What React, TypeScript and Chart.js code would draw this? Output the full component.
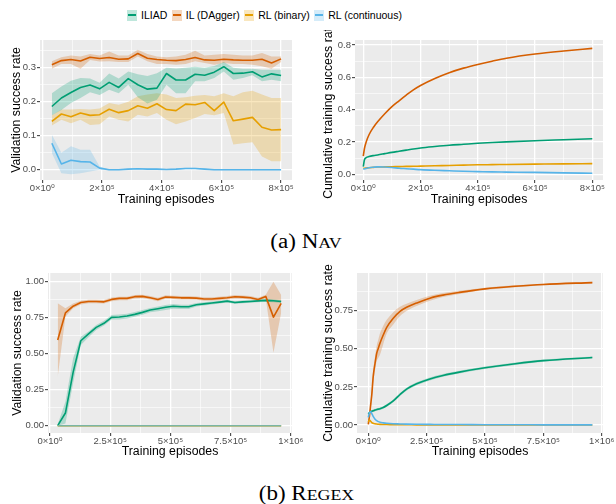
import React, { useEffect, useRef } from 'react';
import { Chart, registerables } from 'chart.js';
Chart.register(...registerables);

const FONT = "'Liberation Sans', 'DejaVu Sans', Arial, sans-serif";
const SERIES = ['ILIAD', 'IL (DAgger)', 'RL (binary)', 'RL (continuous)'];
const COLORS = ['#009E73', '#D55E00', '#E69F00', '#56B4E9'];

// ---------- NAV validation ----------
const NAV_EPISODES = [32000, 64000, 96000, 128000, 160000, 192000, 224000, 256000, 288000, 320000, 352000, 384000, 416000, 448000, 480000, 512000, 544000, 576000, 608000, 640000, 672000, 704000, 736000, 768000, 800000];
const NAV_VAL_ILIAD = [0.186, 0.211, 0.227, 0.242, 0.249, 0.238, 0.257, 0.242, 0.268, 0.250, 0.237, 0.240, 0.283, 0.264, 0.264, 0.281, 0.278, 0.287, 0.303, 0.283, 0.284, 0.288, 0.273, 0.282, 0.277];
const NAV_VAL_ILIAD_LO = [0.160, 0.176, 0.196, 0.211, 0.228, 0.220, 0.235, 0.225, 0.250, 0.213, 0.195, 0.206, 0.250, 0.225, 0.225, 0.260, 0.260, 0.270, 0.289, 0.265, 0.270, 0.278, 0.260, 0.265, 0.260];
const NAV_VAL_ILIAD_HI = [0.225, 0.245, 0.262, 0.270, 0.268, 0.256, 0.283, 0.268, 0.289, 0.281, 0.276, 0.284, 0.300, 0.298, 0.300, 0.303, 0.300, 0.305, 0.317, 0.300, 0.297, 0.297, 0.294, 0.294, 0.294];
const NAV_VAL_IL = [0.309, 0.321, 0.324, 0.320, 0.331, 0.327, 0.330, 0.325, 0.326, 0.342, 0.328, 0.324, 0.322, 0.321, 0.324, 0.330, 0.323, 0.322, 0.325, 0.323, 0.322, 0.322, 0.325, 0.314, 0.326];
const NAV_VAL_IL_LO = [0.297, 0.311, 0.311, 0.297, 0.323, 0.318, 0.319, 0.317, 0.317, 0.333, 0.319, 0.311, 0.311, 0.309, 0.311, 0.319, 0.314, 0.309, 0.314, 0.311, 0.311, 0.309, 0.304, 0.297, 0.317];
const NAV_VAL_IL_HI = [0.319, 0.331, 0.336, 0.333, 0.340, 0.336, 0.348, 0.336, 0.336, 0.353, 0.340, 0.333, 0.331, 0.333, 0.338, 0.350, 0.336, 0.338, 0.340, 0.338, 0.336, 0.336, 0.343, 0.333, 0.333];
const NAV_VAL_RLB = [0.142, 0.164, 0.156, 0.167, 0.160, 0.162, 0.178, 0.168, 0.174, 0.188, 0.181, 0.194, 0.177, 0.174, 0.193, 0.191, 0.198, 0.174, 0.199, 0.144, 0.149, 0.154, 0.125, 0.117, 0.118];
const NAV_VAL_RLB_LO = [0.130, 0.147, 0.137, 0.147, 0.132, 0.134, 0.157, 0.147, 0.142, 0.162, 0.157, 0.167, 0.147, 0.134, 0.142, 0.152, 0.164, 0.160, 0.167, 0.074, 0.078, 0.081, 0.039, 0.025, 0.025];
const NAV_VAL_RLB_HI = [0.160, 0.177, 0.177, 0.179, 0.177, 0.180, 0.196, 0.191, 0.200, 0.216, 0.221, 0.225, 0.221, 0.211, 0.213, 0.218, 0.220, 0.216, 0.225, 0.216, 0.228, 0.232, 0.221, 0.211, 0.211];
const NAV_VAL_RLC = [0.078, 0.017, 0.028, 0.024, 0.023, 0.005, 0.000, 0.000, 0.002, 0.003, 0.002, 0.002, 0.001, 0.002, 0.004, 0.004, 0.002, 0.000, 0.000, 0.000, 0.000, 0.000, 0.000, 0.000, 0.000];
const NAV_VAL_RLC_LO = [0.049, -0.010, -0.013, -0.010, -0.005, 0.000, -0.001, -0.001, 0.000, 0.001, 0.000, 0.000, 0.000, 0.000, 0.002, 0.002, 0.000, -0.001, -0.001, -0.001, -0.001, -0.001, -0.001, -0.001, -0.001];
const NAV_VAL_RLC_HI = [0.103, 0.050, 0.069, 0.059, 0.059, 0.010, 0.001, 0.001, 0.004, 0.005, 0.004, 0.004, 0.002, 0.004, 0.006, 0.006, 0.004, 0.001, 0.001, 0.001, 0.001, 0.001, 0.001, 0.001, 0.001];

// ---------- NAV cumulative training ----------
const NAV_CUM_EPISODES = [0, 4000, 10000, 20000, 35000, 50000, 75000, 100000, 125000, 150000, 175000, 200000, 250000, 300000, 350000, 400000, 450000, 500000, 600000, 700000, 800000];
const NAV_CUM_ILIAD = [0.047, 0.090, 0.103, 0.110, 0.116, 0.120, 0.128, 0.136, 0.143, 0.150, 0.157, 0.163, 0.172, 0.180, 0.186, 0.192, 0.197, 0.201, 0.208, 0.214, 0.220];
const NAV_CUM_IL = [0.113, 0.160, 0.200, 0.245, 0.290, 0.325, 0.375, 0.419, 0.455, 0.490, 0.523, 0.550, 0.593, 0.629, 0.657, 0.680, 0.700, 0.718, 0.744, 0.763, 0.779];
const NAV_CUM_RLB = [0.037, 0.038, 0.039, 0.041, 0.043, 0.045, 0.046, 0.047, 0.048, 0.049, 0.050, 0.051, 0.053, 0.055, 0.057, 0.059, 0.060, 0.061, 0.063, 0.065, 0.066];
const NAV_CUM_RLC = [0.031, 0.034, 0.037, 0.041, 0.044, 0.046, 0.045, 0.042, 0.038, 0.035, 0.032, 0.029, 0.025, 0.022, 0.019, 0.017, 0.015, 0.014, 0.012, 0.009, 0.007];

// ---------- REGEX validation ----------
const REGEX_EPISODES = [32000, 64000, 96000, 128000, 160000, 192000, 224000, 256000, 288000, 320000, 352000, 384000, 416000, 448000, 480000, 512000, 544000, 576000, 608000, 640000, 672000, 704000, 736000, 768000, 800000, 832000, 864000, 896000, 928000, 960000];
const REGEX_VAL_ILIAD = [0.0, 0.088, 0.37, 0.59, 0.637, 0.683, 0.711, 0.752, 0.755, 0.762, 0.773, 0.787, 0.803, 0.812, 0.822, 0.83, 0.826, 0.826, 0.84, 0.846, 0.852, 0.858, 0.865, 0.855, 0.86, 0.863, 0.867, 0.87, 0.868, 0.862];
const REGEX_VAL_ILIAD_LO = [0.0, 0.016, 0.294, 0.56, 0.615, 0.665, 0.695, 0.738, 0.738, 0.745, 0.757, 0.77, 0.788, 0.795, 0.803, 0.812, 0.81, 0.81, 0.828, 0.835, 0.842, 0.848, 0.855, 0.845, 0.85, 0.853, 0.857, 0.86, 0.858, 0.852];
const REGEX_VAL_ILIAD_HI = [0.01, 0.167, 0.468, 0.618, 0.655, 0.70, 0.728, 0.768, 0.772, 0.778, 0.79, 0.803, 0.818, 0.828, 0.838, 0.845, 0.84, 0.84, 0.852, 0.857, 0.862, 0.868, 0.875, 0.865, 0.87, 0.873, 0.877, 0.88, 0.878, 0.872];
const REGEX_VAL_IL = [0.595, 0.783, 0.83, 0.855, 0.862, 0.862, 0.86, 0.877, 0.884, 0.884, 0.896, 0.898, 0.888, 0.877, 0.894, 0.891, 0.888, 0.888, 0.886, 0.88, 0.88, 0.884, 0.889, 0.896, 0.893, 0.888, 0.877, 0.898, 0.754, 0.85];
const REGEX_VAL_IL_LO = [0.34, 0.757, 0.815, 0.842, 0.85, 0.85, 0.848, 0.865, 0.872, 0.872, 0.884, 0.886, 0.876, 0.865, 0.882, 0.879, 0.876, 0.876, 0.874, 0.868, 0.868, 0.872, 0.877, 0.884, 0.881, 0.876, 0.865, 0.885, 0.507, 0.785];
const REGEX_VAL_IL_HI = [0.85, 0.815, 0.848, 0.868, 0.875, 0.875, 0.873, 0.89, 0.896, 0.896, 0.908, 0.91, 0.9, 0.889, 0.906, 0.903, 0.9, 0.9, 0.898, 0.892, 0.892, 0.896, 0.901, 0.908, 0.905, 0.9, 0.889, 0.91, 1.0, 0.907];
const REGEX_VAL_RLB = [0, 0, 0, 0, 0, 0, 0, 0, 0, 0, 0, 0, 0, 0, 0, 0, 0, 0, 0, 0, 0, 0, 0, 0, 0, 0, 0, 0, 0, 0];
const REGEX_VAL_RLC = [0, 0, 0, 0, 0, 0, 0, 0, 0, 0, 0, 0, 0, 0, 0, 0, 0, 0, 0, 0, 0, 0, 0, 0, 0, 0, 0, 0, 0, 0];

// ---------- REGEX cumulative training ----------
const REGEX_CUM_EPISODES = [0, 5000, 10000, 15000, 21000, 29000, 36000, 43000, 50000, 64000, 79000, 107000, 136000, 164000, 207000, 264000, 320000, 390000, 500000, 630000, 750000, 960000];
const REGEX_CUM_IL = [0.004, 0.06, 0.13, 0.2, 0.317, 0.405, 0.47, 0.503, 0.536, 0.59, 0.64, 0.70, 0.745, 0.772, 0.80, 0.832, 0.852, 0.87, 0.893, 0.91, 0.922, 0.934];
const REGEX_CUM_IL_LO = [0.0, 0.04, 0.1, 0.16, 0.27, 0.36, 0.42, 0.44, 0.46, 0.53, 0.6, 0.66, 0.715, 0.748, 0.78, 0.815, 0.84, 0.86, 0.886, 0.904, 0.917, 0.928];
const REGEX_CUM_IL_HI = [0.008, 0.08, 0.16, 0.24, 0.36, 0.45, 0.52, 0.56, 0.6, 0.65, 0.69, 0.74, 0.775, 0.795, 0.82, 0.848, 0.865, 0.88, 0.9, 0.916, 0.927, 0.94];
const REGEX_CUM_ILIAD = [0.072, 0.082, 0.087, 0.09, 0.093, 0.098, 0.101, 0.104, 0.107, 0.115, 0.128, 0.158, 0.2, 0.235, 0.27, 0.302, 0.325, 0.347, 0.375, 0.402, 0.422, 0.443];
const REGEX_CUM_ILIAD_LO = [0.064, 0.074, 0.079, 0.082, 0.085, 0.09, 0.093, 0.096, 0.099, 0.107, 0.119, 0.149, 0.19, 0.225, 0.26, 0.292, 0.316, 0.338, 0.367, 0.394, 0.415, 0.436];
const REGEX_CUM_ILIAD_HI = [0.08, 0.09, 0.095, 0.098, 0.101, 0.106, 0.109, 0.112, 0.115, 0.123, 0.137, 0.167, 0.21, 0.245, 0.28, 0.312, 0.334, 0.356, 0.383, 0.41, 0.429, 0.45];
const REGEX_CUM_RLB = [0.02, 0.032, 0.025, 0.016, 0.011, 0.008, 0.006, 0.005, 0.004, 0.003, 0.003, 0.002, 0.002, 0.002, 0.001, 0.001, 0.001, 0.0, 0.0, 0.0, 0.0, 0.0];
const REGEX_CUM_RLC = [0.05, 0.08, 0.088, 0.075, 0.056, 0.038, 0.028, 0.022, 0.018, 0.014, 0.011, 0.008, 0.007, 0.006, 0.005, 0.004, 0.003, 0.003, 0.002, 0.002, 0.001, 0.001];

// ---------- ticks ----------
const NAV_X_MAJOR = [0, 200000, 400000, 600000, 800000];
const NAV_X_LABELS = ['0×10⁰', '2×10⁵', '4×10⁵', '6×10⁵', '8×10⁵'];
const NAV_X_MINOR = [100000, 300000, 500000, 700000];
const REGEX_X_MAJOR = [0, 250000, 500000, 750000, 1000000];
const REGEX_X_LABELS = ['0×10⁰', '2.5×10⁵', '5×10⁵', '7.5×10⁵', '1×10⁶'];
const REGEX_X_MINOR = [125000, 375000, 625000, 875000];
const NAV_VAL_Y_MAJOR = [0, 0.1, 0.2, 0.3];
const NAV_VAL_Y_LABELS = ['0.0', '0.1', '0.2', '0.3'];
const NAV_VAL_Y_MINOR = [0.05, 0.15, 0.25, 0.35];
const NAV_CUM_Y_MAJOR = [0, 0.2, 0.4, 0.6, 0.8];
const NAV_CUM_Y_LABELS = ['0.0', '0.2', '0.4', '0.6', '0.8'];
const NAV_CUM_Y_MINOR = [0.1, 0.3, 0.5, 0.7];
const REGEX_VAL_Y_MAJOR = [0, 0.25, 0.5, 0.75, 1.0];
const REGEX_VAL_Y_LABELS = ['0.00', '0.25', '0.50', '0.75', '1.00'];
const REGEX_CUM_Y_MAJOR = [0, 0.25, 0.5, 0.75];
const REGEX_CUM_Y_LABELS = ['0.00', '0.25', '0.50', '0.75'];
const REGEX_Y_MINOR = [0.125, 0.375, 0.625, 0.875];

function rgba(hex: string, a: number) {
  const n = parseInt(hex.slice(1), 16);
  return `rgba(${(n >> 16) & 255},${(n >> 8) & 255},${n & 255},${a})`;
}

type Series = { i: number; x: number[]; y: number[]; lo?: number[]; hi?: number[]; smooth?: boolean; lineColor?: string };
type Axis = { min: number; max: number; major: number[]; labels: string[]; minor: number[]; title: string; size: number; titlePad: number };
type PanelCfg = { left: number; top: number; w: number; h: number; padTop: number; padRight: number; x: Axis; y: Axis; series: Series[] };

function pts(x: number[], y: number[]) {
  return x.map((v, j) => ({ x: v, y: y[j] }));
}

function buildDatasets(series: Series[]) {
  const ds: any[] = [];
  series.forEach((s) => {
    if (s.lo && s.hi) {
      const common = { borderWidth: 0, pointRadius: 0, borderColor: 'rgba(0,0,0,0)', order: 20 + s.i, tension: 0, cubicInterpolationMode: s.smooth ? 'monotone' : 'default' };
      ds.push({ ...common, data: pts(s.x, s.lo), fill: false, backgroundColor: 'rgba(0,0,0,0)' });
      ds.push({ ...common, data: pts(s.x, s.hi), fill: '-1', backgroundColor: rgba(COLORS[s.i], 0.25) });
    }
  });
  series.forEach((s) => {
    ds.push({
      data: pts(s.x, s.y), borderColor: s.lineColor || COLORS[s.i], backgroundColor: 'rgba(0,0,0,0)',
      borderWidth: 1.6, pointRadius: 0, fill: false, order: 10 - s.i, tension: 0,
      cubicInterpolationMode: s.smooth ? 'monotone' : 'default', borderJoinStyle: 'round', borderCapStyle: 'butt',
    });
  });
  return ds;
}

function isMajor(ax: Axis, v: number) {
  return ax.major.some((m) => Math.abs(m - v) < 1e-9);
}

function makeScale(ax: Axis, isX: boolean) {
  const all = [...ax.major, ...ax.minor].sort((a, b) => a - b);
  return {
    type: 'linear',
    position: isX ? 'bottom' : 'left',
    min: ax.min,
    max: ax.max,
    bounds: 'data',
    afterBuildTicks: (s: any) => {
      s.ticks = all.map((v) => ({ value: v, major: isMajor(ax, v) }));
    },
    afterFit: (s: any) => {
      if (isX) s.height = ax.size;
      else s.width = ax.size;
    },
    grid: {
      color: '#FFFFFF',
      lineWidth: (c: any) => (c.tick && c.tick.major ? 1.3 : 0.6),
      tickColor: (c: any) => (c.tick && c.tick.major ? '#333333' : 'rgba(0,0,0,0)'),
      tickWidth: 1,
      tickLength: 3,
      drawOnChartArea: true,
    },
    border: { display: false },
    ticks: {
      autoSkip: false,
      maxRotation: 0,
      minRotation: 0,
      padding: isX ? 0 : 1,
      color: '#4D4D4D',
      font: { family: FONT, size: 9.5 },
      callback: (v: number) => {
        const k = ax.major.findIndex((m) => Math.abs(m - v) < 1e-9);
        return k >= 0 ? ax.labels[k] : '';
      },
    },
    title: {
      display: true,
      text: ax.title,
      color: '#000000',
      font: { family: FONT, size: 12.3 },
      padding: isX ? { top: 0, bottom: ax.titlePad } : { top: ax.titlePad, bottom: 0 },
    },
  };
}

const panelBg = {
  id: 'panelBg',
  beforeDraw(chart: any) {
    const { ctx, chartArea: a } = chart;
    ctx.save();
    ctx.fillStyle = '#EBEBEB';
    ctx.fillRect(a.left, a.top, a.right - a.left, a.bottom - a.top);
    ctx.restore();
  },
};

function Panel({ cfg }: { cfg: PanelCfg }) {
  const ref = useRef<HTMLCanvasElement>(null);
  useEffect(() => {
    const chart = new Chart(ref.current as HTMLCanvasElement, {
      type: 'line',
      data: { datasets: buildDatasets(cfg.series) },
      options: {
        animation: false,
        responsive: false,
        events: [],
        layout: { padding: { top: cfg.padTop, right: cfg.padRight, left: 0, bottom: 0 } },
        plugins: { legend: { display: false }, tooltip: { enabled: false } },
        scales: { x: makeScale(cfg.x, true), y: makeScale(cfg.y, false) },
      } as any,
      plugins: [panelBg],
    } as any);
    return () => chart.destroy();
  }, []);
  return (
    <canvas
      ref={ref}
      width={cfg.w}
      height={cfg.h}
      style={{ position: 'absolute', left: cfg.left, top: cfg.top, width: cfg.w, height: cfg.h }}
    />
  );
}

const X_TITLE = 'Training episodes';

const PANELS: PanelCfg[] = [
  {
    left: 0, top: 28, w: 310, h: 182, padTop: 12, padRight: 18,
    x: { min: -7700, max: 836500, major: NAV_X_MAJOR, labels: NAV_X_LABELS, minor: NAV_X_MINOR, title: X_TITLE, size: 30, titlePad: 2.8 },
    y: { min: -0.030, max: 0.3815, major: NAV_VAL_Y_MAJOR, labels: NAV_VAL_Y_LABELS, minor: NAV_VAL_Y_MINOR, title: 'Validation success rate', size: 40, titlePad: 8.8 },
    series: [
      { i: 0, x: NAV_EPISODES, y: NAV_VAL_ILIAD, lo: NAV_VAL_ILIAD_LO, hi: NAV_VAL_ILIAD_HI },
      { i: 1, x: NAV_EPISODES, y: NAV_VAL_IL, lo: NAV_VAL_IL_LO, hi: NAV_VAL_IL_HI },
      { i: 2, x: NAV_EPISODES, y: NAV_VAL_RLB, lo: NAV_VAL_RLB_LO, hi: NAV_VAL_RLB_HI },
      { i: 3, x: NAV_EPISODES, y: NAV_VAL_RLC, lo: NAV_VAL_RLC_LO, hi: NAV_VAL_RLC_HI },
    ],
  },
  {
    left: 300, top: 30, w: 316, h: 180, padTop: 10, padRight: 13,
    x: { min: -29000, max: 837400, major: NAV_X_MAJOR, labels: NAV_X_LABELS, minor: NAV_X_MINOR, title: X_TITLE, size: 30, titlePad: 2.8 },
    y: { min: -0.035, max: 0.831, major: NAV_CUM_Y_MAJOR, labels: NAV_CUM_Y_LABELS, minor: NAV_CUM_Y_MINOR, title: 'Cumulative training success rate', size: 55, titlePad: 21.3 },
    series: [
      { i: 0, x: NAV_CUM_EPISODES, y: NAV_CUM_ILIAD, smooth: true },
      { i: 1, x: NAV_CUM_EPISODES, y: NAV_CUM_IL, smooth: true },
      { i: 2, x: NAV_CUM_EPISODES, y: NAV_CUM_RLB, smooth: true },
      { i: 3, x: NAV_CUM_EPISODES, y: NAV_CUM_RLC, smooth: true },
    ],
  },
  {
    left: 0, top: 258, w: 310, h: 204, padTop: 15, padRight: 18,
    x: { min: -8300, max: 1005000, major: REGEX_X_MAJOR, labels: REGEX_X_LABELS, minor: REGEX_X_MINOR, title: X_TITLE, size: 29, titlePad: 2.8 },
    y: { min: -0.0507, max: 1.0604, major: REGEX_VAL_Y_MAJOR, labels: REGEX_VAL_Y_LABELS, minor: REGEX_Y_MINOR, title: 'Validation success rate', size: 48, titlePad: 9.8 },
    series: [
      { i: 0, x: REGEX_EPISODES, y: REGEX_VAL_ILIAD, lo: REGEX_VAL_ILIAD_LO, hi: REGEX_VAL_ILIAD_HI },
      { i: 1, x: REGEX_EPISODES, y: REGEX_VAL_IL, lo: REGEX_VAL_IL_LO, hi: REGEX_VAL_IL_HI },
      { i: 2, x: REGEX_EPISODES, y: REGEX_VAL_RLB },
      { i: 3, x: REGEX_EPISODES, y: REGEX_VAL_RLC, lineColor: '#7AB5A4' },
    ],
  },
  {
    left: 300, top: 258, w: 316, h: 204, padTop: 15, padRight: 13,
    x: { min: -48400, max: 1005600, major: REGEX_X_MAJOR, labels: REGEX_X_LABELS, minor: REGEX_X_MINOR, title: X_TITLE, size: 29, titlePad: 2.8 },
    y: { min: -0.0525, max: 0.997, major: REGEX_CUM_Y_MAJOR, labels: REGEX_CUM_Y_LABELS, minor: REGEX_Y_MINOR, title: 'Cumulative training success rate', size: 57, titlePad: 21.3 },
    series: [
      { i: 0, x: REGEX_CUM_EPISODES, y: REGEX_CUM_ILIAD, lo: REGEX_CUM_ILIAD_LO, hi: REGEX_CUM_ILIAD_HI, smooth: true },
      { i: 1, x: REGEX_CUM_EPISODES, y: REGEX_CUM_IL, lo: REGEX_CUM_IL_LO, hi: REGEX_CUM_IL_HI, smooth: true },
      { i: 2, x: REGEX_CUM_EPISODES, y: REGEX_CUM_RLB, smooth: true },
      { i: 3, x: REGEX_CUM_EPISODES, y: REGEX_CUM_RLC, smooth: true },
    ],
  },
];

function Legend() {
  return (
    <div style={{ position: 'absolute', left: 127, top: 8, height: 14, display: 'flex', alignItems: 'center', font: `10.5px ${FONT}`, color: '#000', whiteSpace: 'nowrap' }}>
      {SERIES.map((n, i) => (
        <div key={n} style={{ display: 'flex', alignItems: 'center', marginRight: 4.5 }}>
          <div style={{ width: 10, height: 11, background: rgba(COLORS[i], 0.25), position: 'relative', marginRight: 4 }}>
            <div style={{ position: 'absolute', left: 1, right: 1, top: 4.5, height: 2, background: COLORS[i] }} />
          </div>
          <span>{n}</span>
        </div>
      ))}
    </div>
  );
}

function Caption({ top, label, head, rest }: { top: number; label: string; head: string; rest: string }) {
  return (
    <div style={{ position: 'absolute', left: 0, width: 613, top, height: 20, lineHeight: '20px', textAlign: 'center', font: "20px 'Liberation Serif', 'Times New Roman', serif", color: '#000' }}>
      <span style={{ display: 'inline-block', transform: 'scaleX(1.15)' }}>
        {label}&nbsp;{head}
        <span style={{ fontSize: 15.5 }}>{rest}</span>
      </span>
    </div>
  );
}

export default function App() {
  return (
    <div style={{ position: 'absolute', left: 0, top: 0, width: 616, height: 504, background: '#FFFFFF', overflow: 'hidden' }}>
      <Legend />
      {PANELS.map((p, k) => (
        <Panel key={k} cfg={p} />
      ))}
      <Caption top={230} label="(a)" head="N" rest="AV" />
      <Caption top={482} label="(b)" head="R" rest="EGEX" />
    </div>
  );
}
